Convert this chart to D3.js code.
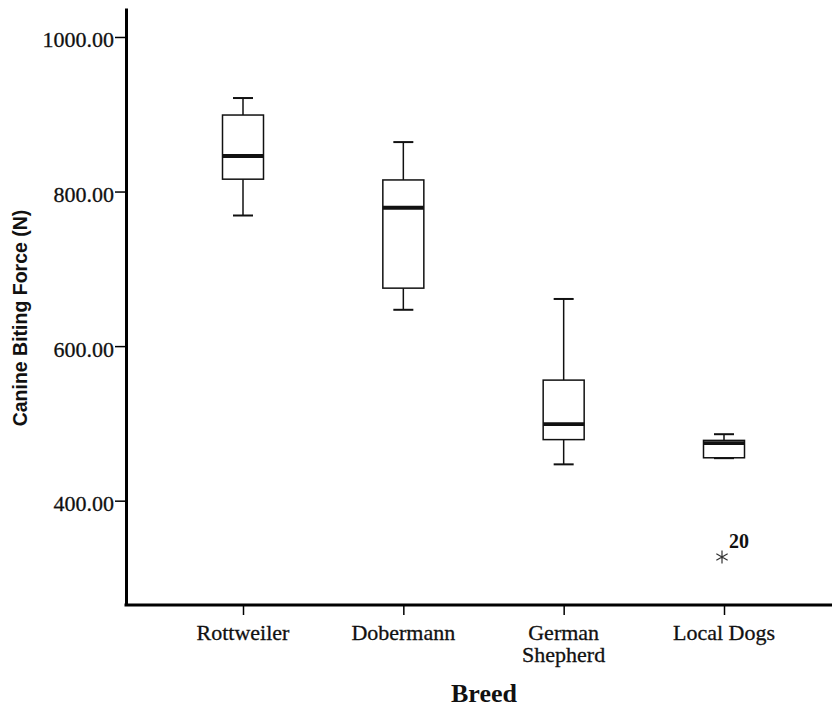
<!DOCTYPE html>
<head>
  <meta charset="utf-8">
  <script src="https://d3js.org/d3.v7.min.js"></script>
  <style>
    body { margin:0; background:#fff; }
    text { fill:#111; }
  </style>
</head>
<body>
<script>

// breeds and box-plot statistics
var breeds = ["Rottweiler", "Dobermann", "German Shepherd", "Local Dogs"];
var whiskerLow  = [769, 647, 447, 455];
var q1          = [816, 675, 479, 455.5];
var median      = [846, 779, 499, 474.5];
var q3          = [899, 815, 556, 478];
var whiskerHigh = [921, 864, 661, 486];
// outliers: breed index, value, case label
var outliers = [{breed: 3, value: 327, label: "20"}];
var yTicks = [400, 600, 800, 1000];

var W = 832, H = 708;
var plotLeft = 126, plotBottom = 605, plotTop = 8;

var svg = d3.select("body").append("svg")
    .attr("width", W)
    .attr("height", H);

var y = d3.scaleLinear()
    .domain([265, 1037.5])
    .range([plotBottom, plotTop]);

var x = d3.scalePoint()
    .domain(breeds)
    .range([243, 724]);

var boxW = 41, capW = 20;
var serif = "Liberation Serif, Times New Roman, serif";

// y axis
var yAxis = svg.append("g")
    .attr("transform", "translate(" + plotLeft + ",0)")
    .call(d3.axisLeft(y).tickValues(yTicks).tickFormat(d3.format(".2f")).tickSize(11).tickSizeOuter(0));
yAxis.select(".domain").attr("stroke-width", 3);
yAxis.selectAll(".tick line").attr("stroke-width", 1.5);
yAxis.selectAll(".tick text")
    .attr("font-family", serif)
    .attr("font-size", 22)
    .attr("fill", "#111")
    .attr("stroke", "#111").attr("stroke-width", 0.3)
    .attr("x", -12)
    .attr("dy", "0.45em");

// x axis
var xAxis = svg.append("g")
    .attr("transform", "translate(0," + plotBottom + ")")
    .call(d3.axisBottom(x).tickSize(10).tickSizeOuter(0));
xAxis.select(".domain").remove();
xAxis.selectAll(".tick line").attr("stroke-width", 1.5);
xAxis.selectAll(".tick text").remove();
svg.append("line")
    .attr("x1", plotLeft - 1.5).attr("x2", W)
    .attr("y1", plotBottom).attr("y2", plotBottom)
    .attr("stroke", "#000").attr("stroke-width", 3);

var labels = svg.append("g");
breeds.forEach(function(b){
  var words = b == "German Shepherd" ? ["German", "Shepherd"] : [b];
  var t = labels.append("text")
      .attr("text-anchor", "middle")
      .attr("font-family", serif)
      .attr("font-size", 22)
      .attr("fill", "#111")
      .attr("stroke", "#111").attr("stroke-width", 0.3);
  words.forEach(function(w, i){
    t.append("tspan").attr("x", x(b)).attr("y", 640 + i * 21.5).text(w);
  });
});

// axis titles
svg.append("text")
    .attr("transform", "translate(27,318) rotate(-90)")
    .attr("text-anchor", "middle")
    .attr("font-family", "Liberation Sans, Arial, sans-serif")
    .attr("font-weight", "bold")
    .attr("font-size", 19.5)
    .text("Canine Biting Force (N)");

svg.append("text")
    .attr("x", 484)
    .attr("y", 702)
    .attr("text-anchor", "middle")
    .attr("font-family", serif)
    .attr("font-weight", "bold")
    .attr("font-size", 26)
    .text("Breed");

// boxes
var g = svg.append("g").attr("stroke", "#111").attr("fill", "none");
breeds.forEach(function(b, i){
  var cx = x(b);
  g.append("line").attr("x1", cx).attr("x2", cx)
      .attr("y1", y(q3[i])).attr("y2", y(whiskerHigh[i])).attr("stroke-width", 1.5);
  g.append("line").attr("x1", cx).attr("x2", cx)
      .attr("y1", y(q1[i])).attr("y2", y(whiskerLow[i])).attr("stroke-width", 1.5);
  g.append("line").attr("x1", cx - capW/2).attr("x2", cx + capW/2)
      .attr("y1", y(whiskerHigh[i])).attr("y2", y(whiskerHigh[i])).attr("stroke-width", 2);
  g.append("line").attr("x1", cx - capW/2).attr("x2", cx + capW/2)
      .attr("y1", y(whiskerLow[i])).attr("y2", y(whiskerLow[i])).attr("stroke-width", 2);
  g.append("rect")
      .attr("x", cx - boxW/2).attr("width", boxW)
      .attr("y", y(q3[i])).attr("height", y(q1[i]) - y(q3[i]))
      .attr("fill", "#fff").attr("stroke-width", 1.5);
  g.append("line").attr("x1", cx - boxW/2).attr("x2", cx + boxW/2)
      .attr("y1", y(median[i])).attr("y2", y(median[i])).attr("stroke-width", 3.8);
});

// outliers
outliers.forEach(function(o){
  var cx = x(breeds[o.breed]) - 2, cy = y(o.value);
  svg.append("path")
      .attr("transform", "translate(" + cx + "," + cy + ")")
      .attr("d", d3.symbol(d3.symbolAsterisk, 120)())
      .attr("stroke", "#333").attr("stroke-width", 1.2).attr("fill", "none");
  svg.append("text")
      .attr("x", cx + 7).attr("y", cy - 9)
      .attr("font-family", serif)
      .attr("font-weight", "bold")
      .attr("font-size", 20)
      .text(o.label);
});

</script>
</body>
